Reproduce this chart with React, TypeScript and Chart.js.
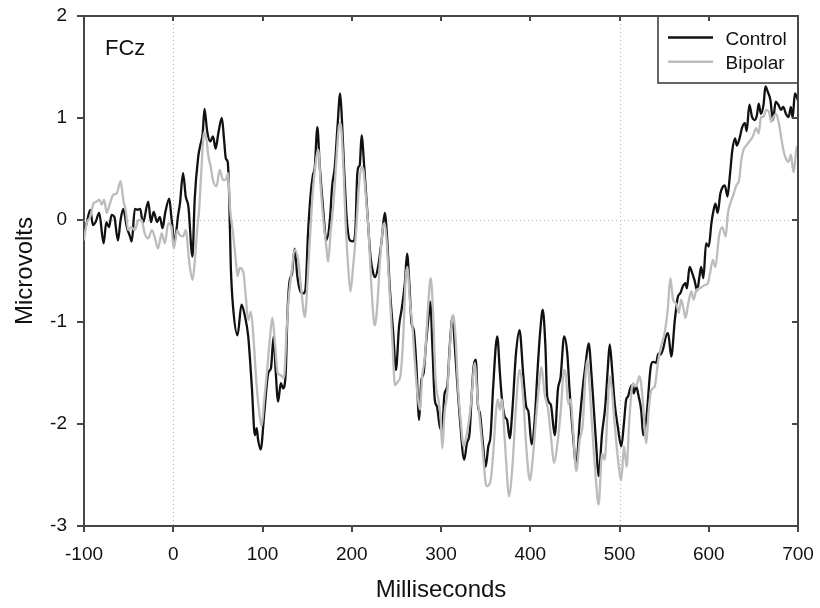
import { useEffect, useRef } from "react";
import { Chart, registerables } from "chart.js";

Chart.register(...registerables);

// ---- data (ms, microvolts) ----
const controlTimes = [
  -100, -97, -93, -90, -87, -83, -78, -75, -72, -69, -66, -62, -59, -56, -52, -48.5, -46.5, -43, -40, -37,
  -34, -28, -25, -22, -18, -15, -12, -9, -4.5, -2, 1.5, 5.5, 7.5, 11, 14, 17, 21.5, 24, 28, 30,
  33, 35, 38, 41.5, 44.5, 47.5, 50.5, 54.5, 57, 59, 61, 62.5, 64.5, 67, 72, 76.5, 80, 84, 88, 91.5,
  93.5, 95, 98, 102, 106.5, 109.5, 112.5, 114.5, 117.5, 120.5, 123, 126, 128, 130.5, 133, 136, 139, 142, 145.5, 148,
  151, 154, 156.5, 158.5, 161.5, 164, 168, 171.5, 175.5, 178, 181, 184, 187, 189, 191.5, 194.5, 198, 201.5, 204, 206,
  207.5, 209, 211, 214, 217.5, 221, 224, 226, 229.5, 233.5, 237, 239.5, 242.5, 246.5, 249.5, 253, 256, 259.5, 262, 264.5,
  267, 269.5, 272.5, 275.5, 278, 280.5, 283.5, 286, 288, 290.5, 293, 295.5, 298.5, 301, 304, 307, 310, 313, 315.5, 318,
  321, 326, 329, 332, 334.5, 336.5, 339, 341.5, 343.5, 346.5, 350, 353, 355.5, 358.5, 363, 366, 368, 371.5, 374, 377,
  380, 384, 388, 392, 395.5, 398, 401.5, 405, 408, 411, 414, 417, 419, 423, 427.5, 431, 434, 438, 441.5, 444,
  448, 451.5, 455.5, 459, 461.5, 465.5, 468.5, 471.5, 474, 476.5, 480.5, 484, 487, 489, 491.5, 494.5, 498, 502, 505, 507.5,
  509.5, 512, 514, 516, 518.5, 521.5, 524.5, 526.5, 530, 535, 537.5, 541, 543.5, 546, 549, 552, 554.5, 558, 562, 565.5,
  568, 571, 574, 575.5, 578.5, 581.5, 584, 587, 589.5, 591.5, 594, 597, 600, 603, 605.5, 607.5, 610, 613, 616, 618,
  621, 623.5, 626.5, 629.5, 631.5, 634.5, 637.5, 640.5, 642.5, 645.5, 648.5, 651.5, 654, 656, 658.5, 661.5, 663.5, 666, 669, 672,
  675, 678, 681, 683.5, 686.5, 689.5, 692, 694, 696.5, 700,
];
const controlValues = [
  -0.12, -0.03, 0.1, -0.05, -0.02, 0.07, -0.23, -0.02, -0.07, 0.05, 0.03, -0.2, 0.0, 0.11, -0.07, -0.16, -0.21, 0.11, 0.1, 0.11,
  -0.03, 0.18, -0.02, 0.08, -0.02, 0.03, -0.08, 0.07, 0.21, 0.02, -0.21, 0.05, 0.16, 0.46, 0.23, 0.13, -0.36, 0.2, 0.62, 0.72,
  0.85, 1.09, 0.87, 0.77, 0.82, 0.7, 0.85, 1.0, 0.78, 0.6, 0.57, 0.29, -0.46, -0.85, -1.13, -0.83, -0.93, -1.14, -1.63, -2.11,
  -2.04, -2.15, -2.25, -1.89, -1.5, -1.45, -1.14, -1.44, -1.78, -1.6, -1.65, -1.5, -0.91, -0.59, -0.53, -0.28, -0.55, -0.69, -0.72, -0.69,
  -0.13, 0.26, 0.44, 0.51, 0.91, 0.55, 0.1, -0.2, 0.0, 0.33, 0.52, 0.91, 1.24, 0.98, 0.49, 0.0, -0.2, -0.21, -0.11, 0.42,
  0.52, 0.54, 0.83, 0.52, 0.07, -0.36, -0.52, -0.56, -0.46, -0.2, 0.07, -0.16, -0.65, -1.11, -1.47, -1.04, -0.87, -0.62, -0.33, -0.62,
  -1.01, -1.08, -1.44, -1.96, -1.57, -1.5, -1.18, -0.95, -0.8, -1.27, -1.76, -1.83, -2.02, -2.06, -1.7, -1.63, -1.21, -0.95, -1.24, -1.57,
  -1.93, -2.35, -2.19, -2.09, -1.7, -1.44, -1.37, -1.83, -1.89, -2.15, -2.42, -2.22, -2.12, -1.63, -1.14, -1.5, -1.73, -1.93, -1.96, -2.14,
  -1.86, -1.31, -1.08, -1.5, -1.83, -1.88, -2.2, -1.96, -1.5, -1.11, -0.88, -1.24, -1.73, -1.81, -2.11, -1.66, -1.54, -1.14, -1.31, -1.66,
  -2.12, -2.4, -1.96, -1.63, -1.45, -1.21, -1.5, -1.89, -2.22, -2.51, -2.09, -1.83, -1.44, -1.22, -1.44, -1.79, -2.02, -2.22, -1.99, -1.76,
  -1.73, -1.65, -1.62, -1.7, -1.63, -1.73, -1.88, -2.11, -1.95, -1.44, -1.39, -1.4, -1.31, -1.32, -1.26, -1.14, -1.11, -1.34, -0.98, -0.75,
  -0.72, -0.65, -0.62, -0.67, -0.46, -0.52, -0.59, -0.69, -0.56, -0.46, -0.57, -0.23, -0.26, -0.03, 0.1, 0.16, 0.07, 0.26, 0.33, 0.34,
  0.23, 0.42, 0.69, 0.8, 0.73, 0.8, 0.91, 0.95, 0.87, 1.13, 1.01, 0.98, 1.03, 1.14, 1.04, 1.14, 1.31, 1.26, 1.18, 0.98,
  1.16, 1.13, 1.08, 1.11, 1.04, 1.01, 1.11, 1.0, 1.24, 1.17,
];

const bipolarTimes = [
  -100, -97, -93, -89.5, -86, -83, -80, -77.5, -74.5, -71, -67, -63.5, -59, -56, -53, -50.5, -47, -43, -39, -35.5,
  -32, -28, -24, -21, -17, -13, -9.5, -5.5, -2, 0.5, 4.5, 7.5, 11, 14, 18, 21.5, 24, 27, 29, 31.5,
  34.5, 37, 39.5, 42, 44.5, 48.5, 52, 56, 59, 61.5, 63.5, 67, 70, 72, 74.5, 78.5, 81, 84, 87, 89.5,
  93.5, 96, 99, 102, 105.5, 108.5, 111, 114, 117, 120, 124, 127, 129.5, 132.5, 136, 140, 143.5, 147.5, 150.5, 153.5,
  156.5, 160.5, 162.5, 165.5, 168.5, 171.5, 173.5, 176.5, 179.5, 183, 185.5, 187.5, 190.5, 193, 196, 198.5, 201.5, 205, 208, 211,
  213, 216.5, 219, 222, 225, 226, 228.5, 231.5, 235, 237, 239.5, 242.5, 245.5, 248.5, 252, 254.5, 257.5, 260.5, 262.5, 265,
  268, 270.5, 273.5, 276.5, 279, 282, 285.5, 288.5, 291, 294, 297, 299.5, 301.5, 304, 307, 310, 313.5, 316.5, 319, 322,
  325.5, 328.5, 331.5, 334, 338, 340.5, 343.5, 347, 351, 355.5, 358.5, 361.5, 363.5, 366, 368, 371.5, 374, 376, 380, 384,
  388, 392, 395.5, 399.5, 403, 407, 410.5, 412.5, 416, 420, 423.5, 426.5, 430.5, 434, 438, 440, 442.5, 445, 448, 451.5,
  455.5, 459, 461.5, 464, 466.5, 470, 473, 476.5, 480.5, 483.5, 486.5, 489, 491.5, 494.5, 498, 502, 505, 508, 511, 515,
  518.5, 522.5, 526, 530, 532.5, 535.5, 539.5, 543, 546.5, 550.5, 554, 557, 560, 563.5, 566.5, 569, 572, 574, 577, 580.5,
  583, 586, 590, 595, 599, 601.5, 604.5, 607.5, 611.5, 615, 619, 621.5, 624, 627, 631, 634, 636.5, 639, 642, 645.5,
  649.5, 653, 656, 658.5, 661, 664.5, 667.5, 670, 672.5, 675.5, 678.5, 681, 683.5, 686.5, 689.5, 692, 695, 696.5, 698.5, 700,
];
const bipolarValues = [
  -0.2, -0.03, 0.03, 0.16, 0.18, 0.2, 0.15, 0.2, 0.07, 0.16, 0.25, 0.26, 0.38, 0.2, 0.08, -0.1, -0.07, -0.1, 0.0, 0.0,
  -0.13, -0.18, -0.1, -0.16, -0.28, -0.13, -0.23, -0.03, -0.07, -0.28, -0.1, -0.15, -0.16, -0.1, -0.42, -0.59, -0.42, -0.07, 0.1, 0.49,
  0.86, 0.8, 0.62, 0.52, 0.39, 0.33, 0.49, 0.39, 0.4, 0.46, 0.13, -0.13, -0.39, -0.55, -0.47, -0.51, -0.72, -0.98, -0.9, -1.11,
  -1.63, -1.86, -2.02, -1.76, -1.44, -1.14, -0.96, -1.21, -1.5, -1.52, -1.55, -1.08, -0.75, -0.52, -0.29, -0.39, -0.69, -0.95, -0.59, -0.13,
  0.29, 0.62, 0.69, 0.29, -0.03, -0.26, -0.41, -0.1, 0.16, 0.62, 0.91, 0.95, 0.55, 0.0, -0.46, -0.7, -0.46, -0.1, 0.33, 0.52,
  0.49, 0.16, -0.13, -0.65, -1.01, -1.03, -0.85, -0.42, -0.07, -0.03, -0.26, -0.72, -1.18, -1.62, -1.58, -1.53, -1.18, -0.56, -0.46, -0.78,
  -1.04, -1.37, -1.7, -1.86, -1.53, -1.34, -0.85, -0.57, -0.88, -1.57, -1.76, -1.93, -2.24, -1.89, -1.7, -1.24, -0.93, -1.18, -1.63, -1.96,
  -2.22, -2.12, -1.96, -1.76, -1.4, -1.7, -1.96, -2.29, -2.61, -2.56, -2.29, -1.89, -1.76, -1.86, -1.76, -2.16, -2.51, -2.71, -2.42, -1.83,
  -1.47, -1.73, -2.22, -2.55, -2.32, -1.89, -1.57, -1.44, -1.7, -1.86, -2.15, -2.38, -2.19, -1.89, -1.47, -1.53, -1.8, -1.76, -2.06, -2.46,
  -2.15, -1.99, -1.57, -1.37, -1.63, -2.12, -2.48, -2.79, -2.29, -2.35, -1.89, -1.53, -1.67, -1.99, -2.32, -2.55, -2.22, -2.42, -1.96, -1.6,
  -1.63, -1.53, -1.76, -2.19, -1.89, -1.67, -1.63, -1.4, -1.24, -1.11, -0.88, -0.57, -0.78, -0.82, -0.91, -0.78, -0.88, -0.96, -0.82, -0.7,
  -0.78, -0.69, -0.67, -0.64, -0.62, -0.52, -0.39, -0.46, -0.16, -0.07, -0.16, 0.07, 0.16, 0.23, 0.34, 0.39, 0.59, 0.69, 0.73, 0.77,
  0.82, 0.9, 0.85, 1.01, 1.01, 1.08, 1.06, 0.96, 1.01, 1.04, 0.95, 0.82, 0.69, 0.6, 0.57, 0.64, 0.47, 0.55, 0.72, 0.72,
];

const seriesNames = ["Control", "Bipolar"];
const seriesColors = ["#111111", "#bcbcbc"];
const xTicks = [-100, 0, 100, 200, 300, 400, 500, 600, 700];
const yTicks = [-3, -2, -1, 0, 1, 2];
const refLinesX = [0, 500];
const refLinesY = [0];
const channelLabel = "FCz";
const xTitle = "Milliseconds";
const yTitle = "Microvolts";

const FONT = "'Liberation Sans', Arial, Helvetica, sans-serif";
const AXIS_COLOR = "#474747";

const decorPlugin = {
  id: "decor",
  beforeDatasetsDraw(chart: any) {
    const { ctx, chartArea, scales } = chart;
    const { left, right, top, bottom } = chartArea;
    ctx.save();
    ctx.strokeStyle = "#b0b0b0";
    ctx.lineWidth = 1;
    ctx.setLineDash([1, 3]);
    refLinesX.forEach((v) => {
      const px = Math.round(scales.x.getPixelForValue(v)) + 0.5;
      ctx.beginPath();
      ctx.moveTo(px, top);
      ctx.lineTo(px, bottom);
      ctx.stroke();
    });
    refLinesY.forEach((v) => {
      const py = Math.round(scales.y.getPixelForValue(v)) + 0.5;
      ctx.beginPath();
      ctx.moveTo(left, py);
      ctx.lineTo(right, py);
      ctx.stroke();
    });
    ctx.restore();
  },
  afterDraw(chart: any) {
    const { ctx, chartArea, scales } = chart;
    const { left, right, top, bottom } = chartArea;
    ctx.save();
    // legend box
    const lw = 140;
    const lh = 67;
    const lx = right - lw;
    ctx.fillStyle = "#ffffff";
    ctx.fillRect(lx, top, lw, lh);
    ctx.strokeStyle = "#333333";
    ctx.lineWidth = 1.5;
    ctx.strokeRect(lx, top, lw, lh);
    ctx.font = `19px ${FONT}`;
    ctx.textBaseline = "alphabetic";
    ctx.textAlign = "left";
    seriesNames.forEach((name, i) => {
      const cy = top + 21.5 + i * 24.3;
      ctx.strokeStyle = seriesColors[i];
      ctx.lineWidth = 2.5;
      ctx.beginPath();
      ctx.moveTo(lx + 10, cy);
      ctx.lineTo(lx + 55, cy);
      ctx.stroke();
      ctx.fillStyle = "#111111";
      ctx.fillText(name, lx + 67.5, cy + 7);
    });
    // channel label
    ctx.font = `22px ${FONT}`;
    ctx.fillStyle = "#111111";
    ctx.fillText(channelLabel, left + 21, top + 38.5);
    // top and right frame with inward ticks
    ctx.strokeStyle = AXIS_COLOR;
    ctx.lineWidth = 2;
    ctx.beginPath();
    ctx.moveTo(left, top);
    ctx.lineTo(right, top);
    ctx.lineTo(right, bottom);
    ctx.stroke();
    xTicks.forEach((v) => {
      const px = Math.round(scales.x.getPixelForValue(v));
      ctx.beginPath();
      ctx.moveTo(px, top);
      ctx.lineTo(px, top + 5);
      ctx.stroke();
    });
    yTicks.forEach((v) => {
      const py = Math.round(scales.y.getPixelForValue(v));
      ctx.beginPath();
      ctx.moveTo(right, py);
      ctx.lineTo(right - 6, py);
      ctx.stroke();
    });
    ctx.restore();
  },
};

export default function App() {
  const canvasRef = useRef<HTMLCanvasElement | null>(null);

  useEffect(() => {
    const canvas = canvasRef.current;
    if (!canvas) return;
    const controlData = controlTimes.map((t, i) => ({ x: t, y: controlValues[i] }));
    const bipolarData = bipolarTimes.map((t, i) => ({ x: t, y: bipolarValues[i] }));
    const chart = new Chart(canvas, {
      type: "line",
      data: {
        datasets: [
          {
            label: seriesNames[0],
            data: controlData,
            borderColor: seriesColors[0],
            borderWidth: 2.3,
            pointRadius: 0,
            cubicInterpolationMode: "monotone",
            order: 1,
          },
          {
            label: seriesNames[1],
            data: bipolarData,
            borderColor: seriesColors[1],
            borderWidth: 2.3,
            pointRadius: 0,
            cubicInterpolationMode: "monotone",
            order: 0,
          },
        ],
      },
      options: {
        animation: false,
        responsive: false,
        devicePixelRatio: 1,
        layout: { padding: { top: 16, right: 22, left: 0, bottom: 0 } },
        plugins: { legend: { display: false }, tooltip: { enabled: false } },
        scales: {
          x: {
            type: "linear",
            min: -100,
            max: 700,
            afterBuildTicks: (scale: any) => {
              scale.ticks = xTicks.map((v) => ({ value: v }));
            },
            afterFit: (scale: any) => {
              scale.height = 82;
              scale.paddingLeft = 0;
              scale.paddingRight = 0;
            },
            grid: {
              drawOnChartArea: false,
              drawTicks: true,
              tickLength: 6,
              tickColor: AXIS_COLOR,
              tickWidth: 2,
              color: AXIS_COLOR,
              lineWidth: 2,
            },
            border: { display: true, color: AXIS_COLOR, width: 2 },
            ticks: {
              color: "#111111",
              padding: 11,
              maxRotation: 0,
              autoSkip: false,
              font: { family: FONT, size: 19 },
            },
            title: {
              display: true,
              text: xTitle,
              color: "#111111",
              font: { family: FONT, size: 24 },
              padding: { top: 0, bottom: 3 },
            },
          },
          y: {
            type: "linear",
            min: -3,
            max: 2,
            afterBuildTicks: (scale: any) => {
              scale.ticks = yTicks.map((v) => ({ value: v }));
            },
            afterFit: (scale: any) => {
              scale.width = 84;
              scale.paddingTop = 0;
              scale.paddingBottom = 0;
            },
            grid: {
              drawOnChartArea: false,
              drawTicks: true,
              tickLength: 7,
              tickColor: AXIS_COLOR,
              tickWidth: 2,
              color: AXIS_COLOR,
              lineWidth: 2,
            },
            border: { display: true, color: AXIS_COLOR, width: 2 },
            ticks: {
              color: "#111111",
              padding: 10,
              autoSkip: false,
              font: { family: FONT, size: 19 },
            },
            title: {
              display: true,
              text: yTitle,
              color: "#111111",
              font: { family: FONT, size: 24 },
              padding: { top: 11, bottom: 0 },
            },
          },
        },
      },
      plugins: [decorPlugin],
    } as any);
    return () => chart.destroy();
  }, []);

  return (
    <div style={{ position: "fixed", left: 0, top: 0, width: 820, height: 608, background: "#ffffff" }}>
      <canvas ref={canvasRef} width={820} height={608} />
    </div>
  );
}
